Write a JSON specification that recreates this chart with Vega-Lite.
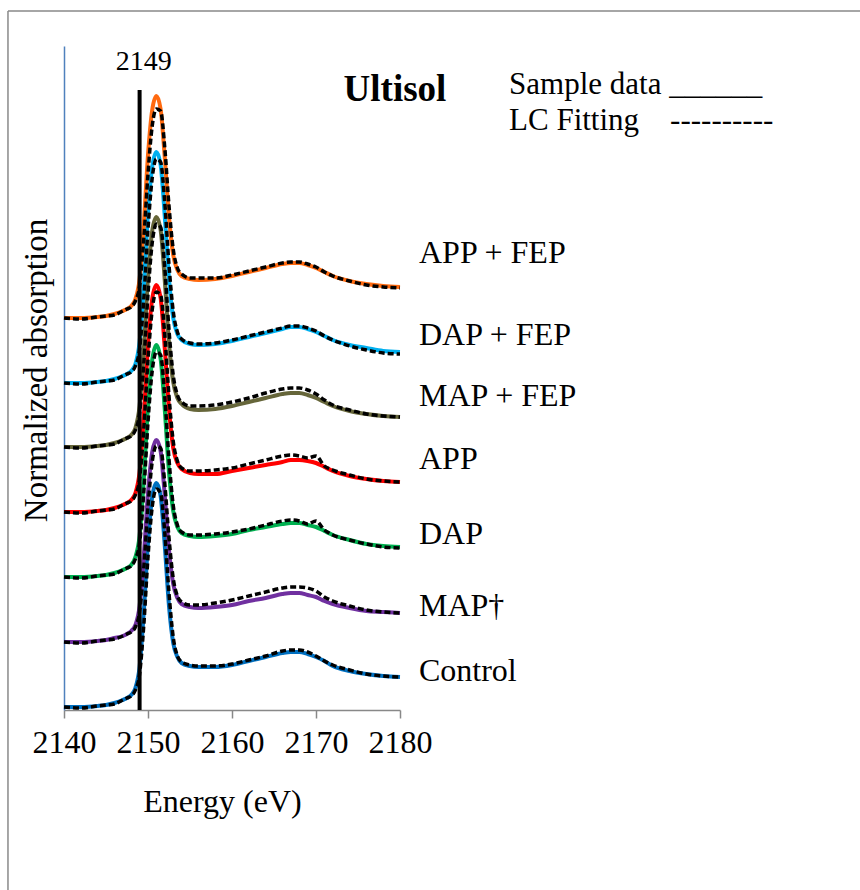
{
"$schema":"https://vega.github.io/schema/vega-lite/v6.json",
"width":336,"height":664,
"autosize":{"type":"none"},
"padding":{"left":64,"top":46,"right":460,"bottom":180},
"background":"white",
"config":{"view":{"stroke":null},"font":"Liberation Serif",
 "axisX":{"format":"d","grid":false,"tickSize":8,"tickColor":"#888888","domainColor":"#888888","domainWidth":1.5,"tickWidth":1.5,"labelFontSize":32,"labelColor":"black","labelPadding":9,"labelOverlap":false,"labelFlush":false,"labelBound":false,"titleFontSize":32,"titleFontWeight":"normal","titleColor":"black","titleX":158,"titleY":91,"titleBaseline":"middle"},
 "axisY":{"ticks":false,"labels":false,"grid":false,"domainColor":"#4F81BD","domainWidth":1.5,"titleFontSize":33,"titleFontWeight":"normal","titleColor":"black","titleAngle":-90,"titleX":-28,"titleY":324,"titleBaseline":"middle","titleAlign":"center"}},
"encoding":{"x":{"field":"e","type":"quantitative","title":"Energy (eV)","scale":{"domain":[2140,2180],"nice":false,"zero":false},"axis":{"values":[2140,2150,2160,2170,2180],"tickCount":5}}},
"data":{"values":[
{"s":"Control","e":2140,"d":0.03,"f":0.03},{"s":"Control","e":2142,"d":0.03,"f":0.02},{"s":"Control","e":2144,"d":0.04,"f":0.04},{"s":"Control","e":2145,"d":0.05,"f":0.05},{"s":"Control","e":2146,"d":0.07,"f":0.06},{"s":"Control","e":2147,"d":0.10,"f":0.10},{"s":"Control","e":2147.5,"d":0.12,"f":0.12},{"s":"Control","e":2148,"d":0.15,"f":0.14},{"s":"Control","e":2148.5,"d":0.22,"f":0.20},{"s":"Control","e":2149,"d":0.43,"f":0.36},{"s":"Control","e":2149.5,"d":0.98,"f":0.85},{"s":"Control","e":2150,"d":1.67,"f":1.53},{"s":"Control","e":2150.5,"d":2.13,"f":2.03},{"s":"Control","e":2151,"d":2.27,"f":2.21},{"s":"Control","e":2151.5,"d":2.14,"f":2.17},{"s":"Control","e":2152,"d":1.64,"f":1.77},{"s":"Control","e":2152.5,"d":1.04,"f":1.17},{"s":"Control","e":2153,"d":0.67,"f":0.73},{"s":"Control","e":2153.5,"d":0.53,"f":0.54},{"s":"Control","e":2154,"d":0.47,"f":0.48},{"s":"Control","e":2155,"d":0.44,"f":0.45},{"s":"Control","e":2156,"d":0.43,"f":0.44},{"s":"Control","e":2158,"d":0.43,"f":0.44},{"s":"Control","e":2160,"d":0.45,"f":0.46},{"s":"Control","e":2162,"d":0.49,"f":0.50},{"s":"Control","e":2164,"d":0.53,"f":0.54},{"s":"Control","e":2166,"d":0.57,"f":0.59},{"s":"Control","e":2167,"d":0.58,"f":0.60},{"s":"Control","e":2168,"d":0.58,"f":0.60},{"s":"Control","e":2169,"d":0.56,"f":0.58},{"s":"Control","e":2170,"d":0.53,"f":0.54},{"s":"Control","e":2171,"d":0.49,"f":0.49},{"s":"Control","e":2172,"d":0.44,"f":0.45},{"s":"Control","e":2174,"d":0.39,"f":0.40},{"s":"Control","e":2176,"d":0.36,"f":0.36},{"s":"Control","e":2178,"d":0.34,"f":0.34},{"s":"Control","e":2180,"d":0.33,"f":0.33},
{"s":"MAP","e":2140,"d":0.68,"f":0.68},{"s":"MAP","e":2142,"d":0.68,"f":0.67},{"s":"MAP","e":2144,"d":0.69,"f":0.69},{"s":"MAP","e":2145,"d":0.70,"f":0.70},{"s":"MAP","e":2146,"d":0.72,"f":0.71},{"s":"MAP","e":2147,"d":0.74,"f":0.74},{"s":"MAP","e":2147.5,"d":0.76,"f":0.76},{"s":"MAP","e":2148,"d":0.79,"f":0.78},{"s":"MAP","e":2148.5,"d":0.85,"f":0.83},{"s":"MAP","e":2149,"d":1.04,"f":0.98},{"s":"MAP","e":2149.5,"d":1.54,"f":1.42},{"s":"MAP","e":2150,"d":2.17,"f":2.03},{"s":"MAP","e":2150.5,"d":2.58,"f":2.48},{"s":"MAP","e":2151,"d":2.70,"f":2.64},{"s":"MAP","e":2151.5,"d":2.59,"f":2.62},{"s":"MAP","e":2152,"d":2.14,"f":2.26},{"s":"MAP","e":2152.5,"d":1.60,"f":1.72},{"s":"MAP","e":2153,"d":1.26,"f":1.32},{"s":"MAP","e":2153.5,"d":1.12,"f":1.14},{"s":"MAP","e":2154,"d":1.06,"f":1.08},{"s":"MAP","e":2155,"d":1.03,"f":1.05},{"s":"MAP","e":2156,"d":1.02,"f":1.05},{"s":"MAP","e":2158,"d":1.03,"f":1.07},{"s":"MAP","e":2160,"d":1.05,"f":1.10},{"s":"MAP","e":2162,"d":1.09,"f":1.14},{"s":"MAP","e":2164,"d":1.12,"f":1.18},{"s":"MAP","e":2166,"d":1.16,"f":1.22},{"s":"MAP","e":2167,"d":1.17,"f":1.23},{"s":"MAP","e":2168,"d":1.17,"f":1.23},{"s":"MAP","e":2169,"d":1.15,"f":1.22},{"s":"MAP","e":2170,"d":1.13,"f":1.19},{"s":"MAP","e":2171,"d":1.09,"f":1.13},{"s":"MAP","e":2172,"d":1.06,"f":1.09},{"s":"MAP","e":2174,"d":1.02,"f":1.04},{"s":"MAP","e":2176,"d":0.99,"f":1.00},{"s":"MAP","e":2178,"d":0.98,"f":0.98},{"s":"MAP","e":2180,"d":0.97,"f":0.97},
{"s":"DAP","e":2140,"d":1.33,"f":1.33},{"s":"DAP","e":2142,"d":1.33,"f":1.32},{"s":"DAP","e":2144,"d":1.34,"f":1.34},{"s":"DAP","e":2145,"d":1.35,"f":1.35},{"s":"DAP","e":2146,"d":1.37,"f":1.36},{"s":"DAP","e":2147,"d":1.40,"f":1.40},{"s":"DAP","e":2147.5,"d":1.42,"f":1.42},{"s":"DAP","e":2148,"d":1.45,"f":1.44},{"s":"DAP","e":2148.5,"d":1.53,"f":1.51},{"s":"DAP","e":2149,"d":1.74,"f":1.67},{"s":"DAP","e":2149.5,"d":2.31,"f":2.18},{"s":"DAP","e":2150,"d":3.03,"f":2.88},{"s":"DAP","e":2150.5,"d":3.50,"f":3.39},{"s":"DAP","e":2151,"d":3.65,"f":3.58},{"s":"DAP","e":2151.5,"d":3.51,"f":3.55},{"s":"DAP","e":2152,"d":3.00,"f":3.13},{"s":"DAP","e":2152.5,"d":2.38,"f":2.51},{"s":"DAP","e":2153,"d":1.99,"f":2.05},{"s":"DAP","e":2153.5,"d":1.83,"f":1.85},{"s":"DAP","e":2154,"d":1.77,"f":1.78},{"s":"DAP","e":2155,"d":1.74,"f":1.75},{"s":"DAP","e":2156,"d":1.73,"f":1.75},{"s":"DAP","e":2158,"d":1.74,"f":1.76},{"s":"DAP","e":2160,"d":1.76,"f":1.78},{"s":"DAP","e":2162,"d":1.80,"f":1.81},{"s":"DAP","e":2164,"d":1.83,"f":1.85},{"s":"DAP","e":2166,"d":1.86,"f":1.89},{"s":"DAP","e":2167,"d":1.87,"f":1.90},{"s":"DAP","e":2168,"d":1.87,"f":1.89},{"s":"DAP","e":2169,"d":1.85,"f":1.86},{"s":"DAP","e":2170,"d":1.83,"f":1.89},{"s":"DAP","e":2171,"d":1.79,"f":1.80},{"s":"DAP","e":2172,"d":1.75,"f":1.75},{"s":"DAP","e":2174,"d":1.70,"f":1.70},{"s":"DAP","e":2176,"d":1.66,"f":1.66},{"s":"DAP","e":2178,"d":1.64,"f":1.63},{"s":"DAP","e":2180,"d":1.63,"f":1.62},
{"s":"APP","e":2140,"d":1.98,"f":1.98},{"s":"APP","e":2142,"d":1.98,"f":1.97},{"s":"APP","e":2144,"d":1.99,"f":1.99},{"s":"APP","e":2145,"d":2.00,"f":2.00},{"s":"APP","e":2146,"d":2.02,"f":2.01},{"s":"APP","e":2147,"d":2.05,"f":2.05},{"s":"APP","e":2147.5,"d":2.07,"f":2.07},{"s":"APP","e":2148,"d":2.10,"f":2.09},{"s":"APP","e":2148.5,"d":2.17,"f":2.15},{"s":"APP","e":2149,"d":2.38,"f":2.31},{"s":"APP","e":2149.5,"d":2.94,"f":2.81},{"s":"APP","e":2150,"d":3.65,"f":3.50},{"s":"APP","e":2150.5,"d":4.11,"f":4.00},{"s":"APP","e":2151,"d":4.25,"f":4.18},{"s":"APP","e":2151.5,"d":4.12,"f":4.15},{"s":"APP","e":2152,"d":3.61,"f":3.75},{"s":"APP","e":2152.5,"d":3.01,"f":3.14},{"s":"APP","e":2153,"d":2.62,"f":2.69},{"s":"APP","e":2153.5,"d":2.47,"f":2.49},{"s":"APP","e":2154,"d":2.41,"f":2.42},{"s":"APP","e":2155,"d":2.37,"f":2.39},{"s":"APP","e":2156,"d":2.36,"f":2.39},{"s":"APP","e":2158,"d":2.36,"f":2.40},{"s":"APP","e":2160,"d":2.39,"f":2.42},{"s":"APP","e":2162,"d":2.42,"f":2.46},{"s":"APP","e":2164,"d":2.45,"f":2.50},{"s":"APP","e":2166,"d":2.48,"f":2.54},{"s":"APP","e":2167,"d":2.50,"f":2.55},{"s":"APP","e":2168,"d":2.50,"f":2.54},{"s":"APP","e":2169,"d":2.49,"f":2.52},{"s":"APP","e":2170,"d":2.47,"f":2.54},{"s":"APP","e":2171,"d":2.43,"f":2.44},{"s":"APP","e":2172,"d":2.39,"f":2.40},{"s":"APP","e":2174,"d":2.34,"f":2.35},{"s":"APP","e":2176,"d":2.31,"f":2.31},{"s":"APP","e":2178,"d":2.29,"f":2.29},{"s":"APP","e":2180,"d":2.28,"f":2.28},
{"s":"MAP + FEP","e":2140,"d":2.63,"f":2.63},{"s":"MAP + FEP","e":2142,"d":2.63,"f":2.62},{"s":"MAP + FEP","e":2144,"d":2.64,"f":2.64},{"s":"MAP + FEP","e":2145,"d":2.65,"f":2.65},{"s":"MAP + FEP","e":2146,"d":2.67,"f":2.66},{"s":"MAP + FEP","e":2147,"d":2.70,"f":2.70},{"s":"MAP + FEP","e":2147.5,"d":2.72,"f":2.72},{"s":"MAP + FEP","e":2148,"d":2.75,"f":2.74},{"s":"MAP + FEP","e":2148.5,"d":2.82,"f":2.80},{"s":"MAP + FEP","e":2149,"d":3.04,"f":2.97},{"s":"MAP + FEP","e":2149.5,"d":3.60,"f":3.47},{"s":"MAP + FEP","e":2150,"d":4.32,"f":4.16},{"s":"MAP + FEP","e":2150.5,"d":4.79,"f":4.67},{"s":"MAP + FEP","e":2151,"d":4.93,"f":4.86},{"s":"MAP + FEP","e":2151.5,"d":4.80,"f":4.83},{"s":"MAP + FEP","e":2152,"d":4.29,"f":4.42},{"s":"MAP + FEP","e":2152.5,"d":3.67,"f":3.80},{"s":"MAP + FEP","e":2153,"d":3.28,"f":3.35},{"s":"MAP + FEP","e":2153.5,"d":3.12,"f":3.15},{"s":"MAP + FEP","e":2154,"d":3.06,"f":3.08},{"s":"MAP + FEP","e":2155,"d":3.01,"f":3.04},{"s":"MAP + FEP","e":2156,"d":3.00,"f":3.04},{"s":"MAP + FEP","e":2158,"d":3.01,"f":3.05},{"s":"MAP + FEP","e":2160,"d":3.04,"f":3.08},{"s":"MAP + FEP","e":2162,"d":3.08,"f":3.12},{"s":"MAP + FEP","e":2164,"d":3.12,"f":3.17},{"s":"MAP + FEP","e":2166,"d":3.16,"f":3.21},{"s":"MAP + FEP","e":2167,"d":3.17,"f":3.22},{"s":"MAP + FEP","e":2168,"d":3.17,"f":3.22},{"s":"MAP + FEP","e":2169,"d":3.15,"f":3.20},{"s":"MAP + FEP","e":2170,"d":3.12,"f":3.16},{"s":"MAP + FEP","e":2171,"d":3.08,"f":3.10},{"s":"MAP + FEP","e":2172,"d":3.04,"f":3.05},{"s":"MAP + FEP","e":2174,"d":2.99,"f":3.00},{"s":"MAP + FEP","e":2176,"d":2.96,"f":2.96},{"s":"MAP + FEP","e":2178,"d":2.94,"f":2.94},{"s":"MAP + FEP","e":2180,"d":2.93,"f":2.93},
{"s":"DAP + FEP","e":2140,"d":3.27,"f":3.27},{"s":"DAP + FEP","e":2142,"d":3.27,"f":3.26},{"s":"DAP + FEP","e":2144,"d":3.28,"f":3.28},{"s":"DAP + FEP","e":2145,"d":3.29,"f":3.29},{"s":"DAP + FEP","e":2146,"d":3.31,"f":3.30},{"s":"DAP + FEP","e":2147,"d":3.34,"f":3.34},{"s":"DAP + FEP","e":2147.5,"d":3.36,"f":3.36},{"s":"DAP + FEP","e":2148,"d":3.39,"f":3.38},{"s":"DAP + FEP","e":2148.5,"d":3.46,"f":3.44},{"s":"DAP + FEP","e":2149,"d":3.68,"f":3.61},{"s":"DAP + FEP","e":2149.5,"d":4.24,"f":4.11},{"s":"DAP + FEP","e":2150,"d":4.97,"f":4.81},{"s":"DAP + FEP","e":2150.5,"d":5.43,"f":5.32},{"s":"DAP + FEP","e":2151,"d":5.58,"f":5.51},{"s":"DAP + FEP","e":2151.5,"d":5.45,"f":5.48},{"s":"DAP + FEP","e":2152,"d":4.93,"f":5.07},{"s":"DAP + FEP","e":2152.5,"d":4.31,"f":4.45},{"s":"DAP + FEP","e":2153,"d":3.92,"f":3.99},{"s":"DAP + FEP","e":2153.5,"d":3.76,"f":3.78},{"s":"DAP + FEP","e":2154,"d":3.70,"f":3.71},{"s":"DAP + FEP","e":2155,"d":3.66,"f":3.67},{"s":"DAP + FEP","e":2156,"d":3.65,"f":3.66},{"s":"DAP + FEP","e":2158,"d":3.66,"f":3.67},{"s":"DAP + FEP","e":2160,"d":3.69,"f":3.70},{"s":"DAP + FEP","e":2162,"d":3.73,"f":3.74},{"s":"DAP + FEP","e":2164,"d":3.77,"f":3.78},{"s":"DAP + FEP","e":2166,"d":3.81,"f":3.82},{"s":"DAP + FEP","e":2167,"d":3.83,"f":3.84},{"s":"DAP + FEP","e":2168,"d":3.83,"f":3.84},{"s":"DAP + FEP","e":2169,"d":3.81,"f":3.82},{"s":"DAP + FEP","e":2170,"d":3.78,"f":3.79},{"s":"DAP + FEP","e":2171,"d":3.74,"f":3.74},{"s":"DAP + FEP","e":2172,"d":3.70,"f":3.70},{"s":"DAP + FEP","e":2174,"d":3.65,"f":3.64},{"s":"DAP + FEP","e":2176,"d":3.62,"f":3.60},{"s":"DAP + FEP","e":2178,"d":3.59,"f":3.57},{"s":"DAP + FEP","e":2180,"d":3.58,"f":3.56},
{"s":"APP + FEP","e":2140,"d":3.92,"f":3.92},{"s":"APP + FEP","e":2142,"d":3.92,"f":3.91},{"s":"APP + FEP","e":2144,"d":3.93,"f":3.93},{"s":"APP + FEP","e":2145,"d":3.94,"f":3.94},{"s":"APP + FEP","e":2146,"d":3.96,"f":3.95},{"s":"APP + FEP","e":2147,"d":3.99,"f":3.99},{"s":"APP + FEP","e":2147.5,"d":4.01,"f":4.01},{"s":"APP + FEP","e":2148,"d":4.04,"f":4.03},{"s":"APP + FEP","e":2148.5,"d":4.11,"f":4.09},{"s":"APP + FEP","e":2149,"d":4.31,"f":4.24},{"s":"APP + FEP","e":2149.5,"d":4.86,"f":4.71},{"s":"APP + FEP","e":2150,"d":5.55,"f":5.36},{"s":"APP + FEP","e":2150.5,"d":6.00,"f":5.84},{"s":"APP + FEP","e":2151,"d":6.14,"f":6.01},{"s":"APP + FEP","e":2151.5,"d":6.01,"f":5.99},{"s":"APP + FEP","e":2152,"d":5.52,"f":5.62},{"s":"APP + FEP","e":2152.5,"d":4.93,"f":5.04},{"s":"APP + FEP","e":2153,"d":4.55,"f":4.61},{"s":"APP + FEP","e":2153.5,"d":4.40,"f":4.42},{"s":"APP + FEP","e":2154,"d":4.34,"f":4.36},{"s":"APP + FEP","e":2155,"d":4.31,"f":4.32},{"s":"APP + FEP","e":2156,"d":4.30,"f":4.32},{"s":"APP + FEP","e":2158,"d":4.31,"f":4.32},{"s":"APP + FEP","e":2160,"d":4.34,"f":4.35},{"s":"APP + FEP","e":2162,"d":4.38,"f":4.39},{"s":"APP + FEP","e":2164,"d":4.42,"f":4.43},{"s":"APP + FEP","e":2166,"d":4.46,"f":4.47},{"s":"APP + FEP","e":2167,"d":4.47,"f":4.48},{"s":"APP + FEP","e":2168,"d":4.47,"f":4.48},{"s":"APP + FEP","e":2169,"d":4.45,"f":4.46},{"s":"APP + FEP","e":2170,"d":4.42,"f":4.43},{"s":"APP + FEP","e":2171,"d":4.38,"f":4.38},{"s":"APP + FEP","e":2172,"d":4.34,"f":4.34},{"s":"APP + FEP","e":2174,"d":4.29,"f":4.29},{"s":"APP + FEP","e":2176,"d":4.26,"f":4.25},{"s":"APP + FEP","e":2178,"d":4.24,"f":4.23},{"s":"APP + FEP","e":2180,"d":4.23,"f":4.22}
]},
"layer":[
{"mark":{"type":"line","strokeWidth":4,"interpolate":"monotone"},
 "encoding":{
  "y":{"field":"d","type":"quantitative","title":"Normalized absorption","scale":{"domain":[0,6.64],"nice":false,"zero":false}},
  "color":{"field":"s","type":"nominal","legend":null,"scale":{"domain":["Control","MAP","DAP","APP","MAP + FEP","DAP + FEP","APP + FEP"],"range":["#0070C0","#7030A0","#00B050","#FF0000","#66663A","#00B0F0","#FF6A10"]}}
 }},
{"mark":{"type":"line","strokeWidth":3.5,"strokeDash":[6,3],"color":"black","interpolate":"monotone"},
 "encoding":{
  "y":{"field":"f","type":"quantitative","title":"Normalized absorption"},
  "detail":{"field":"s","type":"nominal"}
 }},
{"data":{"values":[{"e":2149,"y0":0,"y1":6.2}]},
 "mark":{"type":"rule","strokeWidth":4,"color":"black"},
 "encoding":{"y":{"field":"y0","type":"quantitative","title":"Normalized absorption"},"y2":{"field":"y1"}}},
{"data":{"values":[{"e":2133.33,"y0":-1.8,"y1":6.99}]},
 "mark":{"type":"rule","strokeWidth":1.5,"color":"#898989"},
 "encoding":{"y":{"field":"y0","type":"quantitative","title":"Normalized absorption"},"y2":{"field":"y1"}}},
{"data":{"values":[{"e":2133.33,"e2":2240,"y1":6.99}]},
 "mark":{"type":"rule","strokeWidth":1.5,"color":"#898989"},
 "encoding":{"x2":{"field":"e2"},"y":{"field":"y1","type":"quantitative","title":"Normalized absorption"}}},
{"data":{"values":[
  {"e":2182.26,"a":4.57,"label":"APP + FEP"},
  {"e":2182.26,"a":3.75,"label":"DAP + FEP"},
  {"e":2182.26,"a":3.14,"label":"MAP + FEP"},
  {"e":2182.26,"a":2.51,"label":"APP"},
  {"e":2182.26,"a":1.76,"label":"DAP"},
  {"e":2182.26,"a":1.04,"label":"MAP†"},
  {"e":2182.26,"a":0.39,"label":"Control"}]},
 "mark":{"type":"text","align":"left","baseline":"middle","fontSize":32,"color":"black"},
 "encoding":{"y":{"field":"a","type":"quantitative","title":"Normalized absorption"},"text":{"field":"label"}}},
{"data":{"values":[
  {"e":2192.98,"a":6.25,"label":"Sample data ______"},
  {"e":2192.98,"a":5.89,"label":"LC Fitting\u00a0\u00a0\u00a0\u00a0----------"}]},
 "mark":{"type":"text","align":"left","baseline":"middle","fontSize":31,"color":"black"},
 "encoding":{"y":{"field":"a","type":"quantitative","title":"Normalized absorption"},"text":{"field":"label"}}},
{"data":{"values":[{"e":2149.5,"a":6.48,"label":"2149"}]},
 "mark":{"type":"text","align":"center","baseline":"middle","fontSize":28,"color":"black"},
 "encoding":{"y":{"field":"a","type":"quantitative","title":"Normalized absorption"},"text":{"field":"label"}}},
{"data":{"values":[{"e":2179.4,"a":6.2,"label":"Ultisol"}]},
 "mark":{"type":"text","align":"center","baseline":"middle","fontSize":37,"fontWeight":"bold","color":"black"},
 "encoding":{"y":{"field":"a","type":"quantitative","title":"Normalized absorption"},"text":{"field":"label"}}}
]
}
